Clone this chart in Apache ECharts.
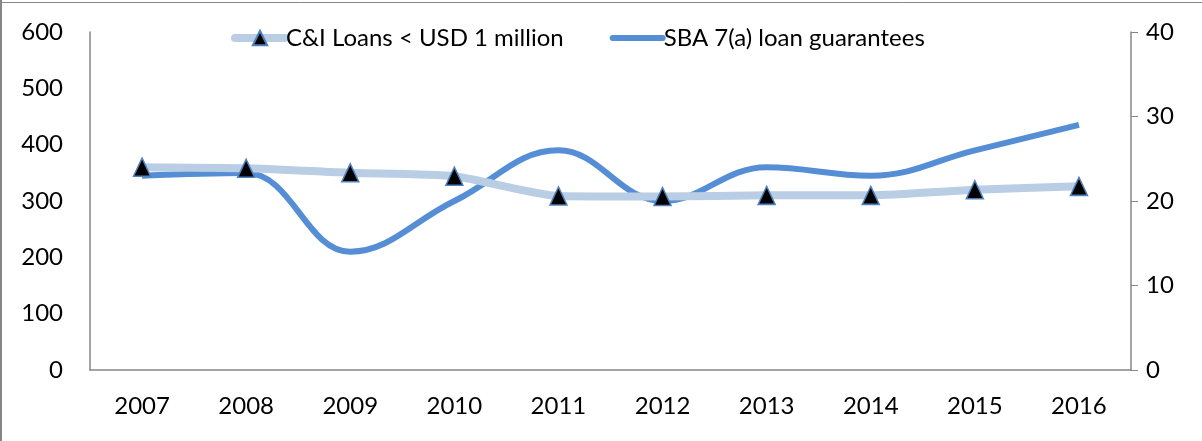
<!DOCTYPE html>
<html>
<head>
<meta charset="utf-8">
<script src="https://cdn.jsdelivr.net/npm/echarts@6/dist/echarts.min.js"></script>
<style>
    html, body { margin: 0; padding: 0; background: #fff; }
    #chart { width: 1202px; height: 441px; }
</style>
</head>
<body>
<div id="chart"></div>
<script>
// data
const years = ['2007', '2008', '2009', '2010', '2011', '2012', '2013', '2014', '2015', '2016']
const ciLoans = [360, 358, 350, 344, 309, 308, 310, 310, 320, 326]
const sbaGuarantees = [23, 23.3, 14, 20, 26, 20, 24, 23, 26, 29]
const leftTicks = [0, 600, 100]   // min, max, step
const rightTicks = [0, 40, 10]

const FONT = 'Lato, "Open Sans", sans-serif'
const AXIS_GREY = '#868686'

const chart = echarts.init(document.getElementById('chart'))
chart.setOption({
    animation: false,
    textStyle: { fontFamily: FONT },
    graphic: [
        { type: 'line', shape: { x1: 1, y1: 0, x2: 1, y2: 441 }, style: { stroke: AXIS_GREY, lineWidth: 2 } },
        { type: 'line', shape: { x1: 0, y1: 2.5, x2: 1202, y2: 2.5 }, style: { stroke: AXIS_GREY, lineWidth: 1 } }
    ],
    grid: {
        left: 90,
        right: 71,
        top: 32,
        bottom: 71,
        containLabel: false
    },
    legend: {
        top: 21,
        left: 226,
        itemWidth: 50,
        itemHeight: 18,
        itemGap: 46,
        textStyle: {
            fontSize: 24,
            color: '#000',
            fontFamily: FONT,
            padding: [0, 0, 0, -4]
        },
        data: [
            { name: 'C&I Loans < USD 1 million', lineStyle: { width: 8, cap: 'round' } },
            { name: 'SBA 7(a) loan guarantees', itemStyle: { opacity: 0 }, lineStyle: { width: 6, cap: 'round' } }
        ]
    },
    xAxis: {
        type: 'category',
        data: years,
        boundaryGap: true,
        axisTick: { show: false },
        axisLine: { lineStyle: { color: AXIS_GREY, width: 1.5 } },
        axisLabel: {
            margin: 24,
            fontSize: 24,
            color: '#000',
            fontFamily: FONT
        },
        splitLine: { show: false }
    },
    yAxis: [{
        type: 'value',
        min: leftTicks[0],
        max: leftTicks[1],
        interval: leftTicks[2],
        axisLine: { show: true, lineStyle: { color: AXIS_GREY, width: 1.5 } },
        axisTick: { show: false },
        splitLine: { show: false },
        axisLabel: {
            margin: 27,
            fontSize: 24,
            color: '#000',
            fontFamily: FONT
        }
    }, {
        type: 'value',
        position: 'right',
        min: rightTicks[0],
        max: rightTicks[1],
        interval: rightTicks[2],
        axisLine: { show: true, lineStyle: { color: AXIS_GREY, width: 1.5 } },
        axisTick: { show: true, length: 7, lineStyle: { color: AXIS_GREY } },
        splitLine: { show: false },
        axisLabel: {
            margin: 15,
            fontSize: 24,
            color: '#000',
            fontFamily: FONT
        }
    }],
    series: [{
        name: 'C&I Loans < USD 1 million',
        type: 'line',
        yAxisIndex: 0,
        data: ciLoans,
        smooth: 0.2,
        symbol: 'triangle',
        symbolSize: [17, 18],
        showAllSymbol: true,
        lineStyle: { color: '#b9cde5', width: 8 },
        itemStyle: { color: '#000', borderColor: '#4f81bd', borderWidth: 1.5 },
        z: 3
    }, {
        name: 'SBA 7(a) loan guarantees',
        type: 'line',
        yAxisIndex: 1,
        data: sbaGuarantees,
        smooth: 0.4,
        symbol: 'none',
        lineStyle: { color: '#558ed5', width: 6 },
        itemStyle: { color: '#558ed5' },
        z: 2
    }]
})
</script>
</body>
</html>
